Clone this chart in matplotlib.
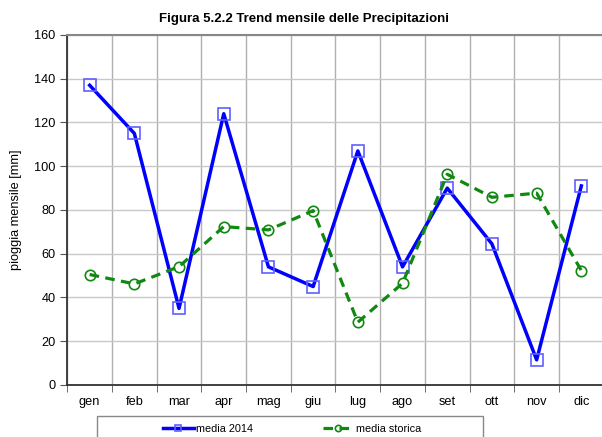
import matplotlib
matplotlib.use("Agg")
import matplotlib.pyplot as plt
import numpy as np
from matplotlib.ticker import FixedLocator, MultipleLocator
from matplotlib.patches import Rectangle

plt.rcParams['font.family'] = ['Liberation Sans', 'DejaVu Sans']

months = ["gen", "feb", "mar", "apr", "mag", "giu", "lug", "ago", "set", "ott", "nov", "dic"]
media_2014 = [137, 115, 35, 124, 54, 45, 107, 54, 90, 64.5, 11.5, 91]
media_storica = [50.5, 46.2, 54.1, 72.4, 70.9, 79.7, 28.7, 46.5, 96.3, 85.8, 87.7, 52.3]

W, H = 602, 437
fig = plt.figure(figsize=(W / 100, H / 100), dpi=100)
ax = fig.add_axes([0.1118, 0.119, 0.891, 0.801])

x = np.arange(len(months))
ax.plot(x, media_2014, color='#0000ff', lw=2.5, marker='s', markersize=8,
        markerfacecolor='none', markeredgecolor='#6060ff', markeredgewidth=1.2,
        label='media 2014', zorder=3)
ax.plot(x, media_storica, color='#118811', lw=2.3, ls=(0, (3, 2)), marker='o', markersize=7.5,
        markerfacecolor='none', markeredgecolor='#118811', markeredgewidth=1.2,
        label='media storica', zorder=3)

ax.set_xlim(-0.5, len(months) - 0.5)
ax.set_ylim(0, 160)
ax.yaxis.set_major_locator(MultipleLocator(20))
ax.set_xticks(x)
ax.set_xticklabels(months, fontsize=9.2)
ax.xaxis.set_minor_locator(FixedLocator(np.arange(-0.5, len(months), 1.0)))
ax.tick_params(axis='x', which='major', length=0, pad=8)
ax.tick_params(axis='x', which='minor', length=5, color='#555555', direction='out')
ax.tick_params(axis='y', length=5, color='#555555', labelsize=9.2, direction='out')
ax.grid(True, axis='y', which='major', color='#c8c8c8', lw=1)
ax.grid(True, axis='x', which='minor', color='#b0b0b0', lw=1)
ax.set_axisbelow(True)
for s in ['left', 'bottom']:
    ax.spines[s].set_color('#333333')
    ax.spines[s].set_linewidth(1.3)
ax.spines['top'].set_color('#888888')
ax.spines['top'].set_linewidth(1.5)
ax.spines['right'].set_visible(False)

ax.set_ylabel('pioggia mensile [mm]', fontsize=9.2, labelpad=9)
fig.text(0.505, 0.957, 'Figura 5.2.2 Trend mensile delle Precipitazioni', ha='center', va='center',
         fontsize=9.5, fontweight='bold')

# legend box (extends beyond the bottom edge, as in the reference)
fig.patches.append(Rectangle((97 / W, -0.05), (483 - 97) / W, 0.05 + (437 - 416) / H,
                             transform=fig.transFigure, fill=False, edgecolor='#888888',
                             lw=1, zorder=1))
handles, labels = ax.get_legend_handles_labels()
leg = fig.legend(handles, labels, loc='center', bbox_to_anchor=(292 / W, (437 - 429) / H),
                 ncol=2, frameon=False, fontsize=7.8, columnspacing=6.4,
                 handlelength=2.9, handletextpad=0.2, markerscale=0.6, borderpad=0)

fig.savefig('out.png', dpi=100)
